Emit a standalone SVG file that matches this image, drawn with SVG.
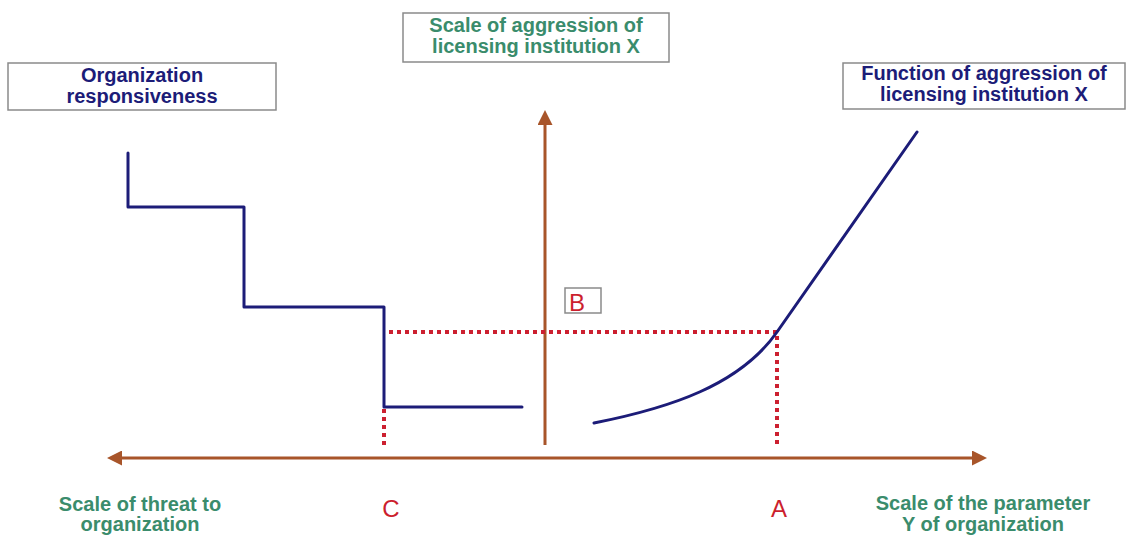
<svg xmlns="http://www.w3.org/2000/svg" width="1128" height="542" viewBox="0 0 1128 542">
<defs>
<style>
.box{fill:#fff;stroke:#8a8a8a;stroke-width:1.5}
.lbl{font-family:"Liberation Sans",Arial,sans-serif;font-weight:bold;font-size:20px;text-anchor:middle}
.navy{fill:#1c1c78}
.green{fill:#3a8c6c}
.red{font-family:"Liberation Sans",Arial,sans-serif;font-size:24px;fill:#cc1f2e;text-anchor:middle}
.axis{stroke:#a8552a;stroke-width:3;fill:none}
.curve{stroke:#1c1c78;stroke-width:3;fill:none;stroke-linejoin:round;stroke-linecap:round}
.dot{stroke:#cc2030;stroke-width:4;fill:none;stroke-dasharray:4 4}
</style>
<marker id="ah" markerWidth="5" markerHeight="5" refX="1" refY="3" orient="auto-start-reverse" markerUnits="strokeWidth" viewBox="0 0 6 6">
<path d="M0,0 L6,3 L0,6 Z" fill="#a8552a"/>
</marker>
</defs>
<rect width="1128" height="542" fill="#fff"/>

<g id="connectors">
<line class="axis" x1="119.5" y1="458" x2="974.5" y2="458" marker-start="url(#ah)" marker-end="url(#ah)"/>
<line class="axis" x1="545" y1="445" x2="545" y2="122.5" marker-end="url(#ah)"/>
<path class="dot" d="M389,332 H777 V448"/>
<path class="dot" d="M384,409 V448"/>
</g>

<g id="staircase">
<path class="curve" d="M128,153 V207 H244 V307 H384 V407 H522"/>
</g>

<g id="function-curve">
<path class="curve" d="M594,423 C670,408 740,385 777,332 L917,132"/>
</g>

<g id="node-org-responsiveness">
<rect class="box" x="8" y="63" width="268" height="47"/>
<text class="lbl navy" x="142" y="82">Organization</text>
<text class="lbl navy" x="142" y="103">responsiveness</text>
</g>

<g id="node-scale-aggression">
<rect class="box" x="403" y="13" width="266" height="49"/>
<text class="lbl green" x="536" y="32">Scale of aggression of</text>
<text class="lbl green" x="536" y="53">licensing institution X</text>
</g>

<g id="node-function-aggression">
<rect class="box" x="843" y="63" width="282" height="46"/>
<text class="lbl navy" x="984" y="80">Function of aggression of</text>
<text class="lbl navy" x="984" y="101">licensing institution X</text>
</g>

<g id="node-B">
<rect class="box" x="565" y="288" width="36" height="25"/>
<text class="red" x="577" y="311">B</text>
</g>

<g id="node-threat">
<text class="lbl green" x="140" y="511">Scale of threat to</text>
<text class="lbl green" x="140" y="531">organization</text>
</g>

<g id="node-parameter">
<text class="lbl green" x="983" y="510">Scale of the parameter</text>
<text class="lbl green" x="983" y="531">Y of organization</text>
</g>

<g id="node-C">
<text class="red" x="391" y="517">C</text>
</g>
<g id="node-A">
<text class="red" x="779" y="517">A</text>
</g>
</svg>
